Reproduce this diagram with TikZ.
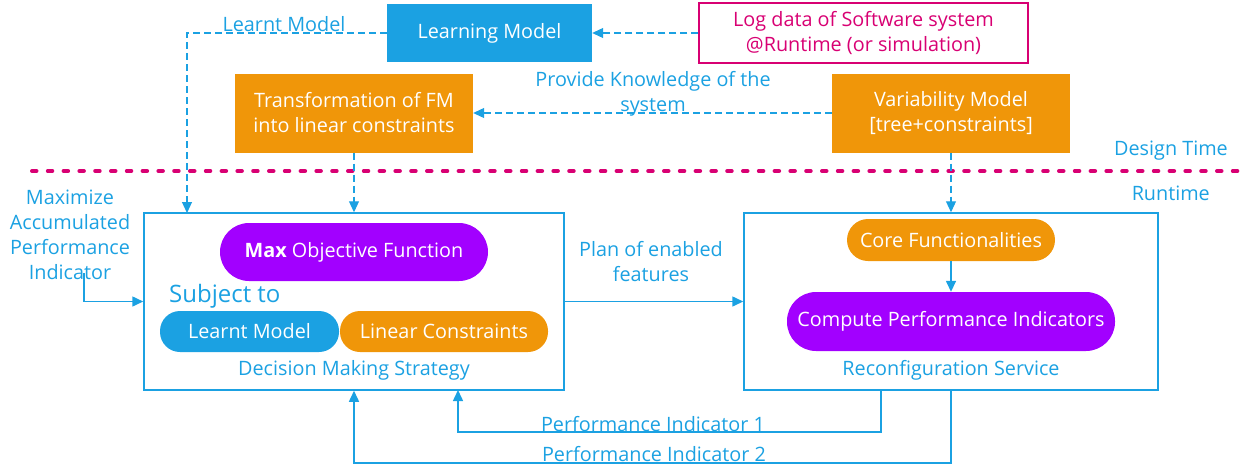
\documentclass[tikz,border=0pt]{standalone}
\usepackage{fontspec}
\setmainfont{Open Sans}
\usetikzlibrary{arrows.meta}
\definecolor{mblue}{HTML}{1BA1E2}
\definecolor{morange}{HTML}{F09609}
\definecolor{mviolet}{HTML}{A200FF}
\definecolor{mmag}{HTML}{D80073}
\tikzset{
  base/.style={font=\fontsize{19.8}{25}\selectfont, inner sep=0pt, align=center},
  bluebox/.style={base, fill=mblue, text=white},
  orangebox/.style={base, fill=morange, text=white},
  pill/.style={base, text=white, rounded corners=#1},
  frame/.style={base, draw=mblue, line width=1.5pt},
  lbl/.style={base, text=mblue},
  tip/.style={-{Triangle[length=11pt,width=10pt]}},
  dline/.style={draw=mblue, line width=1.1pt, dash pattern=on 7pt off 4pt, tip},
  sline/.style={draw=mblue, line width=1.5pt, tip},
}
\begin{document}
\begin{tikzpicture}[x=1pt,y=-1pt]
\useasboundingbox (0,0) rectangle (1246,466);
% top row
\node[bluebox, minimum width=205pt, minimum height=58pt] (lm) at (489.5,33) {Learning Model};
\node[base, draw=mmag, line width=1.2pt, text=mmag, minimum width=329pt, minimum height=60pt] (log) at (863.5,33) {Log data of Software system\\@Runtime (or simulation)};
\node[orangebox, minimum width=238pt, minimum height=79pt] (tr) at (354,113) {Transformation of FM\\into linear constraints};
\node[orangebox, minimum width=238pt, minimum height=79pt] (vm) at (951,113) {Variability Model\\{[}tree+constraints{]}};
% separator
\draw[mmag, line width=4pt, line cap=round, dash pattern=on 4.5pt off 11.3pt] (32,171) -- (1246,171);
\node[lbl, anchor=east] (dt) at (1228,151) {Design Time};
\node[lbl, anchor=east] (rt) at (1210,193) {Runtime};
% frames
\node[frame, minimum width=420pt, minimum height=177pt] (dm) at (354,301.5) {};
\node[frame, minimum width=414pt, minimum height=177pt] (rs) at (951,301.5) {};
% decision contents
\node[pill=29pt, fill=mviolet, minimum width=268pt, minimum height=58pt] (maxo) at (354,252) {\textbf{Max} Objective Function};
\node[lbl, font=\fontsize{24}{28}\selectfont, anchor=west] (subj) at (169,296) {Subject to};
\node[pill=20pt, fill=mblue, minimum width=179pt, minimum height=41pt] (lmp) at (249.5,331.5) {Learnt Model};
\node[pill=20pt, fill=morange, minimum width=208pt, minimum height=41pt] (lcp) at (444,331.5) {Linear Constraints};
\node[lbl] (dms) at (354,370) {Decision Making Strategy};
% reconfiguration contents
\node[pill=21pt, fill=morange, minimum width=208pt, minimum height=42pt] (core) at (951,240) {Core Functionalities};
\node[pill=29pt, fill=mviolet, minimum width=328pt, minimum height=59pt] (comp) at (951,321.5) {Compute Performance Indicators};
\node[lbl] (rsl) at (951,370) {Reconfiguration Service};
% labels
\node[lbl] (ll) at (284,24) {Learnt Model};
\node[lbl] (pk) at (653,94) {Provide Knowledge of the\\system};
\node[lbl] (mx) at (70,235) {Maximize\\Accumulated\\Performance\\Indicator};
\node[lbl] (pl) at (651,262) {Plan of enabled\\features};
\node[lbl] (pi1) at (653,424) {Performance Indicator 1};
\node[lbl] (pi2) at (654,454) {Performance Indicator 2};
% coordinates
\coordinate (d1) at (187,213);
\coordinate (m1) at (84,273);
\coordinate (p1a) at (881,390);
\coordinate (p1b) at (458,390);
% connectors
\draw[dline] (lm.west) -| (d1);
\draw[dline] (log.west) -- (lm.east);
\draw[dline] (vm.west) -- (tr.east);
\draw[dline] (tr.south) -- (dm.north);
\draw[dline] (vm.south) -- (rs.north);
\draw[sline] (core.south) -- (comp.north);
\draw[sline] (dm.east) -- (rs.west);
\draw[sline] (m1) |- (dm.west);
\draw[sline] (p1a) -- ++(0,42) -| (p1b);
\draw[sline] (rs.south) -- ++(0,72) -| (dm.south);
\end{tikzpicture}
\end{document}
